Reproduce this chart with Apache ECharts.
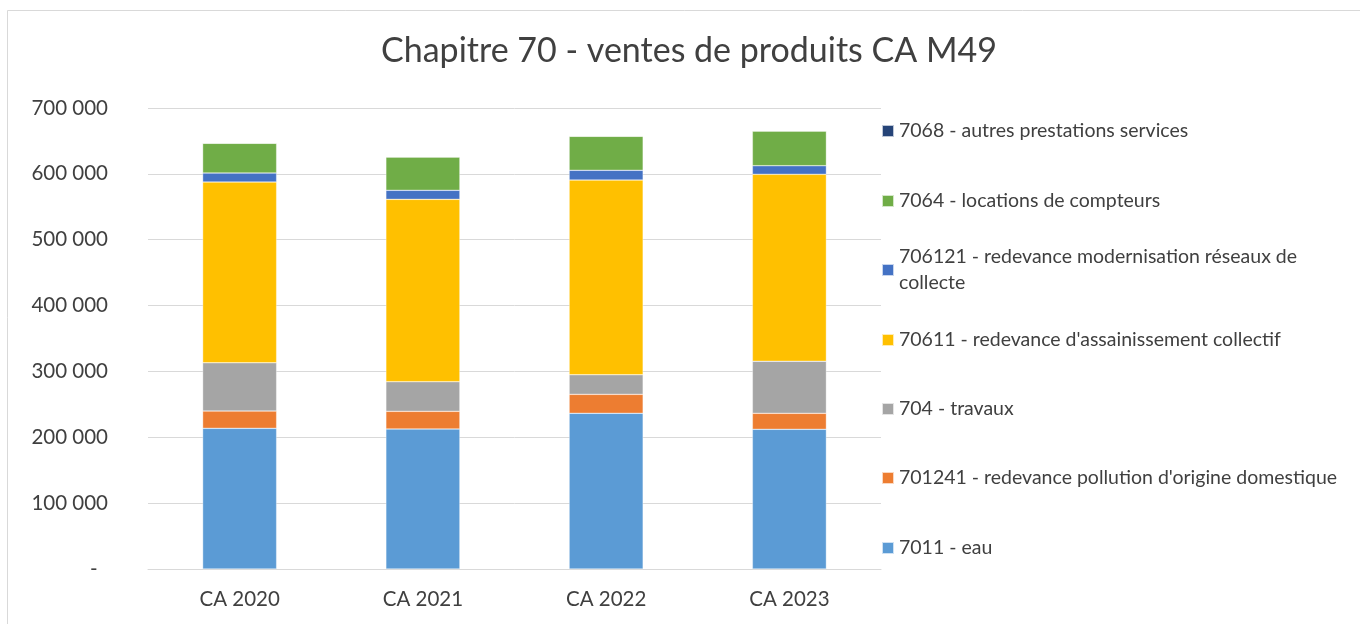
<!DOCTYPE html>
<html>
<head>
<meta charset="utf-8">
<script src="https://cdn.jsdelivr.net/npm/echarts@6/dist/echarts.min.js"></script>
<style>
  html, body { margin: 0; padding: 0; background: #fff; }
  #chart { width: 1360px; height: 624px; }
</style>
</head>
<body>
<div id="chart"></div>
<script>
const categories = ['CA 2020', 'CA 2021', 'CA 2022', 'CA 2023']

const eau = [213600, 212600, 236400, 212100]
const pollution = [26300, 26800, 28800, 24300]
const travaux = [73300, 45000, 29800, 79000]
const assainissement = [274400, 276900, 295600, 283900]
const modernisation = [13700, 13700, 14800, 13100]
const compteurs = [45100, 50600, 51600, 52600]
const autres = [0, 0, 0, 0]

const seriesDefs = [
  { name: '7011 - eau', data: eau, color: '#5B9BD5' },
  { name: "701241 - redevance pollution d'origine domestique", data: pollution, color: '#ED7D31' },
  { name: '704 - travaux', data: travaux, color: '#A5A5A5' },
  { name: "70611 - redevance d'assainissement collectif", data: assainissement, color: '#FFC000' },
  { name: '706121 - redevance modernisation réseaux de collecte', data: modernisation, color: '#4472C4' },
  { name: '7064 - locations de compteurs', data: compteurs, color: '#70AD47' },
  { name: '7068 - autres prestations services', data: autres, color: '#264478' }
]

// legend rows, top to bottom (centre y of each icon)
const legendRows = [
  { name: '7068 - autres prestations services', cy: 131 },
  { name: '7064 - locations de compteurs', cy: 201 },
  { name: '706121 - redevance modernisation réseaux de collecte', cy: 270, wrap: true },
  { name: "70611 - redevance d'assainissement collectif", cy: 340 },
  { name: '704 - travaux', cy: 409 },
  { name: "701241 - redevance pollution d'origine domestique", cy: 478 },
  { name: '7011 - eau', cy: 548 }
]

const font = 'Lato, "Liberation Sans", sans-serif'
const textColor = '#404040'

function fmt(v) {
  if (v === 0) return '-  '
  return String(v).replace(/\B(?=(\d{3})+(?!\d))/g, ' ')
}

const chart = echarts.init(document.getElementById('chart'))

const option = {
  backgroundColor: '#fff',
  animation: false,
  title: {
    text: 'Chapitre 70 - ventes de produits CA M49',
    left: 684,
    top: 29,
    textAlign: 'center',
    textStyle: { fontFamily: font, fontSize: 34, fontWeight: 'normal', color: textColor }
  },
  graphic: [{
    type: 'rect',
    shape: { x: 7.5, y: 10.5, width: 1400, height: 700 },
    style: { fill: 'none', stroke: '#d9d9d9', lineWidth: 1 },
    silent: true
  }],
  legend: legendRows.map(r => ({
    data: [r.name],
    orient: 'vertical',
    left: 881,
    top: r.wrap ? r.cy - 39 : r.cy - 13,
    itemWidth: 12,
    itemHeight: 12,
    itemGap: 0,
    padding: 0,
    icon: 'rect',
    selectedMode: false,
    formatter: r.wrap ? () => '706121 - redevance modernisation réseaux de\ncollecte' : undefined,
    textStyle: {
      fontFamily: font,
      fontSize: 19.5,
      color: textColor,
      lineHeight: 26,
      padding: r.wrap ? [26, 0, 0, 0] : 0
    }
  })),
  grid: { left: 148, right: 479, top: 108, bottom: 55, containLabel: false },
  xAxis: {
    type: 'category',
    data: categories,
    axisLine: { lineStyle: { color: '#d9d9d9' } },
    axisTick: { show: false },
    axisLabel: { fontFamily: font, fontSize: 20.5, color: textColor, margin: 20 }
  },
  yAxis: {
    type: 'value',
    min: 0,
    max: 700000,
    interval: 100000,
    axisLine: { show: false },
    axisTick: { show: false },
    axisLabel: { fontFamily: font, fontSize: 20.5, color: textColor, margin: 40, formatter: fmt },
    splitLine: { lineStyle: { color: '#d9d9d9', width: 1 } }
  },
  series: seriesDefs.map(s => ({
    name: s.name,
    type: 'bar',
    stack: 'total',
    barWidth: 74,
    data: s.data,
    itemStyle: { color: s.color, borderColor: 'rgba(255,255,255,0.7)', borderWidth: 0.5 }
  }))
}

chart.setOption(option)
</script>
</body>
</html>
